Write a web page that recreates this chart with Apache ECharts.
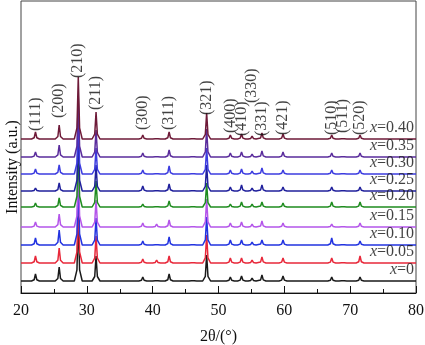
<!DOCTYPE html>
<html>
<head>
<meta charset="utf-8">
<script src="https://cdn.jsdelivr.net/npm/echarts@6/dist/echarts.min.js"></script>
<style>
  html, body { margin: 0; padding: 0; background: #fff; }
  #chart { width: 425px; height: 345px; }
</style>
</head>
<body>
<div id="chart"></div>
<script>
// peak positions (2θ, degrees) and their Miller indices
const peakPos = [22.2, 25.8, 28.7, 31.4, 38.5, 40.6, 42.5, 46.1, 48.2, 51.8, 53.5, 55.1, 56.6, 59.8, 67.2, 68.9, 71.5]
const hkl = ['(111)', '(200)', '(210)', '(211)', '(300)', '', '(311)', '', '(321)', '(400)', '(410)', '(330)', '(331)', '(421)', '(510)', '(511)', '(520)']
// height (a.u.) at which each index label starts
const hklLabelY = [165, 178, 218, 186, 166, 0, 166, 0, 181, 163, 160, 193, 160, 161, 161, 163, 161]

const samples = ['0', '0.05', '0.10', '0.15', '0.20', '0.25', '0.30', '0.35', '0.40']
// vertical offset of each pattern
const offsets = [12, 30, 48, 66, 86, 102, 119, 136, 154]
const colors = ['#1a1a1a', '#e8283a', '#2233e0', '#b455ea', '#1f8c1f', '#20209c', '#3c3ce0', '#5a2c9c', '#6e1a38']

// peak intensities per sample, same order as peakPos
const i000 = [7, 14, 62, 25, 4, 2, 7, 2, 26, 4, 5, 3, 6, 5, 4, 2, 4]
const i005 = [7, 15, 62, 27, 4, 3, 7, 2, 28, 5, 5, 3, 6, 5, 5, 2, 7]
const i010 = [7, 15, 62, 27, 4, 2, 8, 2, 28, 5, 5, 3, 5, 5, 7, 2, 4]
const i015 = [5, 13, 62, 27, 4, 3, 7, 2, 28, 4, 5, 3, 6, 4, 3, 2, 4]
const i020 = [4, 9, 60, 26, 3, 2, 6, 2, 24, 3, 5, 3, 5, 4, 5, 2, 5]
const i025 = [3, 8, 60, 26, 5, 2, 7, 2, 26, 4, 6, 3, 6, 4, 4, 2, 4]
const i030 = [5, 9, 60, 26, 4, 2, 8, 2, 26, 4, 5, 3, 6, 4, 4, 2, 4]
const i035 = [5, 12, 60, 27, 4, 2, 7, 2, 28, 4, 5, 3, 6, 5, 4, 2, 4]
const i040 = [7, 14, 62, 27, 4, 2, 7, 2, 26, 4, 5, 3, 6, 5, 4, 2, 4]
const intensities = [i000, i005, i010, i015, i020, i025, i030, i035, i040]

const serif = 'Liberation Serif'

// turn a peak list into a stick-like profile on its baseline
const profile = (heights, base) => {
  const pts = [[20, base]]
  peakPos.forEach((p, k) => {
    const h = heights[k]
    pts.push([p - 0.6, base], [p - 0.2, base + h * 0.18], [p, base + h], [p + 0.2, base + h * 0.18], [p + 0.6, base])
  })
  pts.push([80, base])
  return pts
}

const chart = echarts.init(document.getElementById('chart'))

const patternSeries = samples.map((s, i) => ({
  name: 'x=' + s,
  type: 'line',
  data: profile(intensities[i], offsets[i]),
  symbol: 'none',
  lineStyle: { color: colors[i], width: 1.5 },
  z: 2 + i,
  silent: true
}))

const sampleLabels = {
  type: 'scatter',
  symbolSize: 1,
  itemStyle: { color: 'transparent' },
  z: 20,
  data: samples.map((s, i) => ({ value: [80, offsets[i]], name: s })),
  label: {
    show: true,
    position: 'inside',
    align: 'right',
    verticalAlign: 'bottom',
    offset: [-2, -3],
    formatter: (p) => '{i|x}{n|=' + p.name + '}',
    rich: {
      i: { fontFamily: serif, fontSize: 16, fontStyle: 'italic', color: '#111' },
      n: { fontFamily: serif, fontSize: 16, color: '#111' }
    }
  }
}

const hklLabels = {
  type: 'scatter',
  symbolSize: 1,
  itemStyle: { color: 'transparent' },
  z: 20,
  data: peakPos
    .map((p, k) => ({ value: [p, hklLabelY[k]], name: hkl[k] }))
    .filter((d) => d.name),
  label: {
    show: true,
    position: 'inside',
    rotate: 90,
    align: 'left',
    verticalAlign: 'middle',
    offset: [-3, 0],
    formatter: (p) => p.name,
    fontFamily: serif,
    fontSize: 16,
    color: '#111'
  }
}

chart.setOption({
  animation: false,
  backgroundColor: '#fff',
  grid: {
    left: 21,
    right: 9,
    top: 1,
    bottom: 52,
    outerBoundsMode: 'none',
    show: true,
    borderColor: '#444',
    borderWidth: 1
  },
  xAxis: {
    type: 'value',
    min: 20,
    max: 80,
    interval: 10,
    name: '2θ/(°)',
    nameLocation: 'middle',
    nameGap: 36,
    nameTextStyle: { fontFamily: serif, fontSize: 16, color: '#111' },
    axisLine: { lineStyle: { color: '#111', width: 1 } },
    axisTick: { inside: true, length: 7, lineStyle: { color: '#111' } },
    minorTick: { show: true, splitNumber: 2, length: 4, lineStyle: { color: '#111' } },
    axisLabel: { fontFamily: serif, fontSize: 16, color: '#111', margin: 10 },
    splitLine: { show: false }
  },
  yAxis: {
    type: 'value',
    min: 0,
    max: 292,
    axisLine: { show: false },
    axisTick: { show: false },
    axisLabel: { show: false },
    splitLine: { show: false }
  },
  graphic: [
    {
      type: 'text',
      x: 13,
      y: 167,
      rotation: Math.PI / 2,
      style: {
        text: 'Intensity (a.u.)',
        fontFamily: serif,
        fontSize: 16,
        fill: '#111',
        align: 'center',
        verticalAlign: 'middle'
      }
    }
  ],
  series: [...patternSeries, sampleLabels, hklLabels]
})
</script>
</body>
</html>
